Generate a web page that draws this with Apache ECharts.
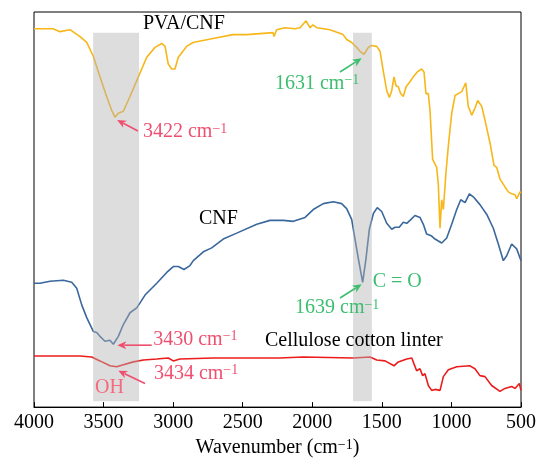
<!DOCTYPE html>
<html><head><meta charset="utf-8">
<script src="https://cdn.jsdelivr.net/npm/echarts@6/dist/echarts.min.js"></script>
<style>html,body{margin:0;padding:0;background:#fff}#c{width:539px;height:463px}</style>
</head><body><div id="c"></div>
<script>
const FONT = '"Liberation Serif","Times New Roman",serif';
const PINK = '#ef4f6f', GREEN = '#3cbe6e', OHPINK = '#f36b7c';
const COL_PVA = '#f7b718', COL_CNF = '#3a679c', COL_CEL = '#ec1c1c';

const xMin = 500, xMax = 4000, xStep = 500;
const yMin = 0, yMax = 402;

const pvaX = [4000,3863,3813,3741,3669,3621,3574,3526,3478,3442,3418,3394,3358,3310,3250,3190,3130,3082,3058,3035,3010,2987,2963,2951,2903,2857,2714,2570,2471,2282,2275,2256,2196,2124,2088,2045,2016,1995,1968,1873,1779,1753,1717,1681,1657,1628,1597,1573,1537,1513,1490,1465,1446,1429,1413,1398,1382,1365,1346,1326,1298,1274,1245,1231,1214,1197,1183,1166,1154,1135,1106,1094,1082,1070,1058,1039,1022,998,974,951,926,897,879,854,831,811,782,759,723,694,675,651,615,591,567,543,531,507,500];
const pvaY = [385,385,382,384,377,371,357,336,316,302,295,299,301,316,336,356,366,370,367,349,344,344,356,357,367,371,375,379,379,381,377,384,386,385,386,393,386,389,386,384,379,374,371,366,362,359,366,368,367,362,342,322,315,322,336,327,326,319,316,326,331,336,341,339,344,341,319,319,302,252,244,226,182,211,201,239,266,299,317,319,321,330,306,297,304,312,306,292,269,246,244,232,224,219,217,216,212,219,218];

const cnfX = [4000,3957,3885,3789,3729,3693,3657,3621,3574,3549,3526,3490,3454,3430,3394,3358,3310,3262,3238,3202,3118,3046,2999,2963,2922,2879,2855,2783,2723,2640,2543,2399,2304,2208,2136,2052,1993,1921,1849,1789,1753,1717,1693,1669,1638,1614,1590,1561,1533,1501,1465,1429,1405,1375,1346,1321,1298,1262,1226,1202,1178,1159,1142,1118,1070,1034,998,962,933,902,871,843,795,746,699,663,627,603,567,531,500];
const cnfY = [126,126,128,129,127,121,104,91,77,76,72,67,68,64,72,84,96,101,106,114,126,137,143,143,140,144,149,158,162,171,177,186,190,190,189,193,201,207,209,207,202,191,171,151,127,151,181,197,203,199,187,181,183,183,188,187,190,195,193,186,176,175,174,171,167,172,186,201,211,208,217,214,206,196,182,166,149,154,166,161,149];

const celX = [4000,3885,3669,3585,3526,3454,3406,3358,3286,3214,3118,3035,2999,2951,2711,2471,2237,2065,1705,1585,1537,1477,1413,1382,1321,1285,1269,1250,1226,1207,1190,1166,1142,1118,1082,1058,1022,962,867,831,795,759,711,651,615,567,543,512,500];
const celY = [52,52,52,51,47,42,41,43,46,48,49,50,47,49,50,50,50,51,50,51,48,47,42,46,49,50,44,37,39,32,34,22,17,18,17,31,38,41,42,39,32,31,22,16,19,21,19,24,17];

const bands = [[3575,3245],[1707,1572]];
const bandY = [6, 381];

const labels = [
  {text:'PVA/CNF', at:[3217,390], color:'#000'},
  {text:'3422 cm', sup:'\u22121', at:[3217,280], color:PINK},
  {text:'1631 cm', sup:'\u22121', at:[2268,329], color:GREEN},
  {text:'CNF', at:[2814,192], color:'#000'},
  {text:'3430 cm', sup:'\u22121', at:[3143,69], color:PINK},
  {text:'3434 cm', sup:'\u22121', at:[3138,34], color:PINK},
  {text:'OH', at:[3562,20], color:OHPINK},
  {text:'C = O', at:[1566,128], color:GREEN},
  {text:'1639 cm', sup:'\u22121', at:[2124,101], color:GREEN},
  {text:'Cellulose cotton linter', at:[2340,68], color:'#000'}
];
const arrows = [
  {from:[3253,281], to:[3403,292], color:PINK},
  {from:[1801,341], to:[1645,355], color:GREEN},
  {from:[3154,63], to:[3401,63], color:PINK},
  {from:[3202,24], to:[3394,37], color:PINK},
  {from:[1801,111], to:[1645,125], color:GREEN}
];

const zip = (a, b) => a.map((v, i) => [v, b[i]]);
const chart = echarts.init(document.getElementById('c'));
const lineSeries = (name, xs, ys, color) => ({
  name, type:'line', data: zip(xs, ys), showSymbol:false, symbol:'none',
  lineStyle:{width:1.6, color}, itemStyle:{color}, z:2, silent:true, animation:false
});
chart.setOption({
  animation:false,
  grid:{left:34, right:18, top:12, bottom:49, show:true, borderColor:'#000', borderWidth:1},
  xAxis:{type:'value', min:xMin, max:xMax, interval:xStep, inverse:true,
    axisLine:{show:true, lineStyle:{color:'#000', width:1}},
    axisTick:{show:true, inside:true, length:5, lineStyle:{color:'#000'}},
    axisLabel:{fontSize:20, color:'#000', fontFamily:FONT, margin:6, formatter:v => String(v)},
    splitLine:{show:false},
    name:'{m|Wavenumber (cm}{s|\u22121}{m|)}', nameLocation:'middle', nameGap:28,
    nameTextStyle:{rich:{
      m:{fontSize:20, fontFamily:FONT, color:'#000', lineHeight:20, verticalAlign:'bottom'},
      s:{fontSize:14, fontFamily:FONT, color:'#000', lineHeight:14, verticalAlign:'top'}}}
  },
  yAxis:{type:'value', min:yMin, max:yMax, show:false, splitLine:{show:false}},
  series:[
    lineSeries('PVA/CNF', pvaX, pvaY, COL_PVA),
    lineSeries('CNF', cnfX, cnfY, COL_CNF),
    lineSeries('Cellulose cotton linter', celX, celY, COL_CEL),
    {type:'custom', data:bands, z:3, silent:true,
      renderItem:(params, api) => {
        const p1 = api.coord([api.value(0), bandY[1]]);
        const p2 = api.coord([api.value(1), bandY[0]]);
        return {type:'rect', shape:{x:Math.min(p1[0],p2[0]), y:p1[1], width:Math.abs(p2[0]-p1[0]), height:p2[1]-p1[1]},
          style:{fill:'rgba(179,179,179,0.445)'}};
      }}
  ]
});
const graphics = labels.map(l => {
  const p = chart.convertToPixel({gridIndex:0}, l.at);
  const txt = l.sup ? '{m|' + l.text + '}{s|' + l.sup + '}' : '{m|' + l.text + '}';
  return {type:'text', x:p[0], y:p[1], z:100, silent:true,
    style:{text:txt, align:'left', verticalAlign:'middle', fill:l.color,
      rich:{m:{fontSize:20, fontFamily:FONT, fill:l.color, lineHeight:20, verticalAlign:'bottom'},
            s:{fontSize:14, fontFamily:FONT, fill:l.color, lineHeight:14, verticalAlign:'top'}}}};
});
arrows.forEach(a => {
  const p0 = chart.convertToPixel({gridIndex:0}, a.from);
  const p1 = chart.convertToPixel({gridIndex:0}, a.to);
  const dx = p1[0]-p0[0], dy = p1[1]-p0[1], len = Math.hypot(dx, dy);
  const ux = dx/len, uy = dy/len, hl = 9, hw = 4;
  const bx = p1[0]-ux*hl, by = p1[1]-uy*hl;
  graphics.push({type:'line', z:100, silent:true,
    shape:{x1:p0[0], y1:p0[1], x2:bx+ux*2, y2:by+uy*2}, style:{stroke:a.color, lineWidth:1.6}});
  graphics.push({type:'polygon', z:100, silent:true,
    shape:{points:[[p1[0],p1[1]],[bx-uy*hw,by+ux*hw],[bx+ux*2.5,by+uy*2.5],[bx+uy*hw,by-ux*hw]]},
    style:{fill:a.color}});
});
chart.setOption({graphic:graphics});
</script></body></html>
